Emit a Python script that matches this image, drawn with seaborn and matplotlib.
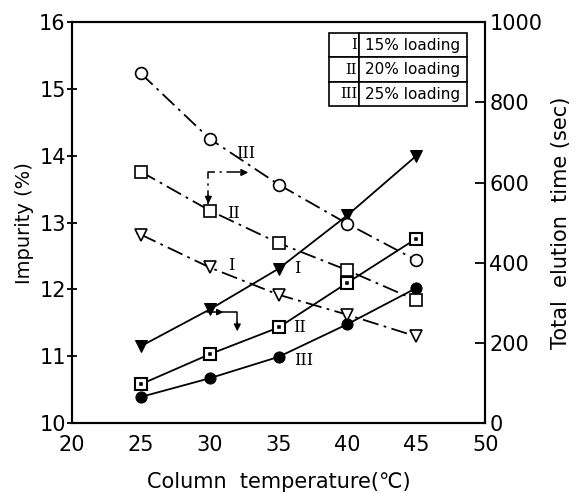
import matplotlib
matplotlib.use("Agg")
import matplotlib.pyplot as plt
import seaborn as sns
import pandas as pd

sns.set_theme(style="white")
plt.rcParams['font.family'] = ['DejaVu Sans']
plt.rcParams['text.color'] = 'black'
plt.rcParams['axes.labelcolor'] = 'black'

temps = [25, 30, 35, 40, 45]
# Impurity (%) - left axis, filled markers
imp_I = [11.15, 11.70, 12.31, 13.11, 14.00]
imp_II = [10.58, 11.03, 11.43, 12.10, 12.76]
imp_III = [10.39, 10.67, 10.99, 11.48, 12.02]
# Total elution time (sec) - right axis, open markers
time_I = [470, 388, 320, 270, 216]
time_II = [627, 530, 449, 381, 306]
time_III = [872, 709, 595, 497, 406]

legend_rows = [["I", "15% loading"], ["II", "20% loading"], ["III", "25% loading"]]
x_ticks = [20, 25, 30, 35, 40, 45, 50]
left_ticks = [10, 11, 12, 13, 14, 15, 16]
right_ticks = [0, 200, 400, 600, 800, 1000]

fig = plt.figure(figsize=(5.81, 4.93), dpi=100)
ax = fig.add_axes([0.124, 0.142, 0.711, 0.813])
ax2 = ax.twinx()

dashdot = (0, (9, 3, 1.5, 3))
lw = 1.3

# filled markers, solid lines (left axis)
sns.lineplot(x=temps, y=imp_I, ax=ax, color="black", lw=lw, marker="v",
             markersize=9, markerfacecolor="black", markeredgecolor="black")
sns.lineplot(x=temps, y=imp_II, ax=ax, color="black", lw=lw, marker="s",
             markersize=8, markerfacecolor="white", markeredgecolor="black", markeredgewidth=1.5)
sns.scatterplot(x=temps, y=imp_II, ax=ax, color="black", marker="s", s=12, zorder=5)
sns.lineplot(x=temps, y=imp_III, ax=ax, color="black", lw=lw, marker="o",
             markersize=8, markerfacecolor="black", markeredgecolor="black")

# open markers, dash-dot lines (right axis)
for vals, mk in [(time_I, "v"), (time_II, "s"), (time_III, "o")]:
    sns.lineplot(x=temps, y=vals, ax=ax2, color="black", lw=lw, marker=mk,
                 markersize=8.5, markerfacecolor="white", markeredgecolor="black",
                 markeredgewidth=1.2, linestyle=dashdot)

ax.set_xlim(20, 50)
ax.set_ylim(10, 16)
ax2.set_ylim(0, 1000)
ax.set_xticks(x_ticks)
ax.set_yticks(left_ticks)
ax2.set_yticks(right_ticks)

for a in (ax, ax2):
    for s in a.spines.values():
        s.set_color("black")
        s.set_linewidth(1.5)
ax.tick_params(axis="y", direction="inout", length=7, width=1.3, labelsize=15, pad=1, colors="black")
ax.tick_params(axis="x", direction="in", length=7, width=1.3, labelsize=15, pad=9, colors="black")
ax2.tick_params(axis="y", direction="in", length=7, width=1.3, labelsize=15, pad=3, colors="black")
# nudge the right-axis "0" upward a little so it clears the "50"
for lab in ax2.get_yticklabels():
    lab.set_verticalalignment("center_baseline")

ax.set_xlabel("Column  temperature(℃)", fontsize=15, labelpad=12, color="black")
ax.set_ylabel("Impurity (%)", fontsize=14, labelpad=4, color="black")
ax2.set_ylabel("Total  elution  time (sec)", fontsize=15, labelpad=6, color="black")

# roman numeral curve labels
serif = dict(family="DejaVu Serif", fontsize=11.5, color="black")
ax.text(32.6, 14.04, "III", ha="center", va="center", **serif)
ax.text(31.7, 13.14, "II", ha="center", va="center", **serif)
ax.text(31.55, 12.36, "I", ha="center", va="center", **serif)
ax.text(36.33, 12.31, "I", ha="center", va="center", **serif)
ax.text(36.55, 11.43, "II", ha="center", va="center", **serif)
ax.text(36.8, 10.94, "III", ha="center", va="center", **serif)

# axis-indicating arrows
ax.plot([29.9, 29.9, 32.4], [13.28, 13.75, 13.75], color="black", lw=1.1, linestyle=dashdot)
ax.annotate("", xy=(33.0, 13.75), xytext=(32.2, 13.75),
            arrowprops=dict(arrowstyle="-|>", color="black", lw=1.1, mutation_scale=10))
ax.annotate("", xy=(29.9, 13.24), xytext=(29.9, 13.45),
            arrowprops=dict(arrowstyle="-|>", color="black", lw=1.1, mutation_scale=10))
ax.plot([29.8, 32.0, 32.0], [11.66, 11.66, 11.5], color="black", lw=1.1)
ax.annotate("", xy=(32.0, 11.33), xytext=(32.0, 11.55),
            arrowprops=dict(arrowstyle="-|>", color="black", lw=1.1, mutation_scale=10))
ax.annotate("", xy=(31.2, 11.66), xytext=(30.4, 11.66),
            arrowprops=dict(arrowstyle="-|>", color="black", lw=1.1, mutation_scale=9))

# legend table
tbl = ax.table(cellText=legend_rows, bbox=[0.622, 0.79, 0.334, 0.183],
               colWidths=[0.217, 0.783], cellLoc="left")
tbl.auto_set_font_size(False)
for (r, c), cell in tbl.get_celld().items():
    cell.set_linewidth(1.2)
    cell.set_edgecolor("black")
    cell.PAD = 0.06
    t = cell.get_text()
    t.set_color("black")
    if c == 0:
        t.set_fontfamily("DejaVu Serif")
        t.set_fontsize(10.5)
        t.set_horizontalalignment("right")
        cell._loc = "right"
    else:
        t.set_fontsize(11)

fig.savefig("out.png", dpi=100)
